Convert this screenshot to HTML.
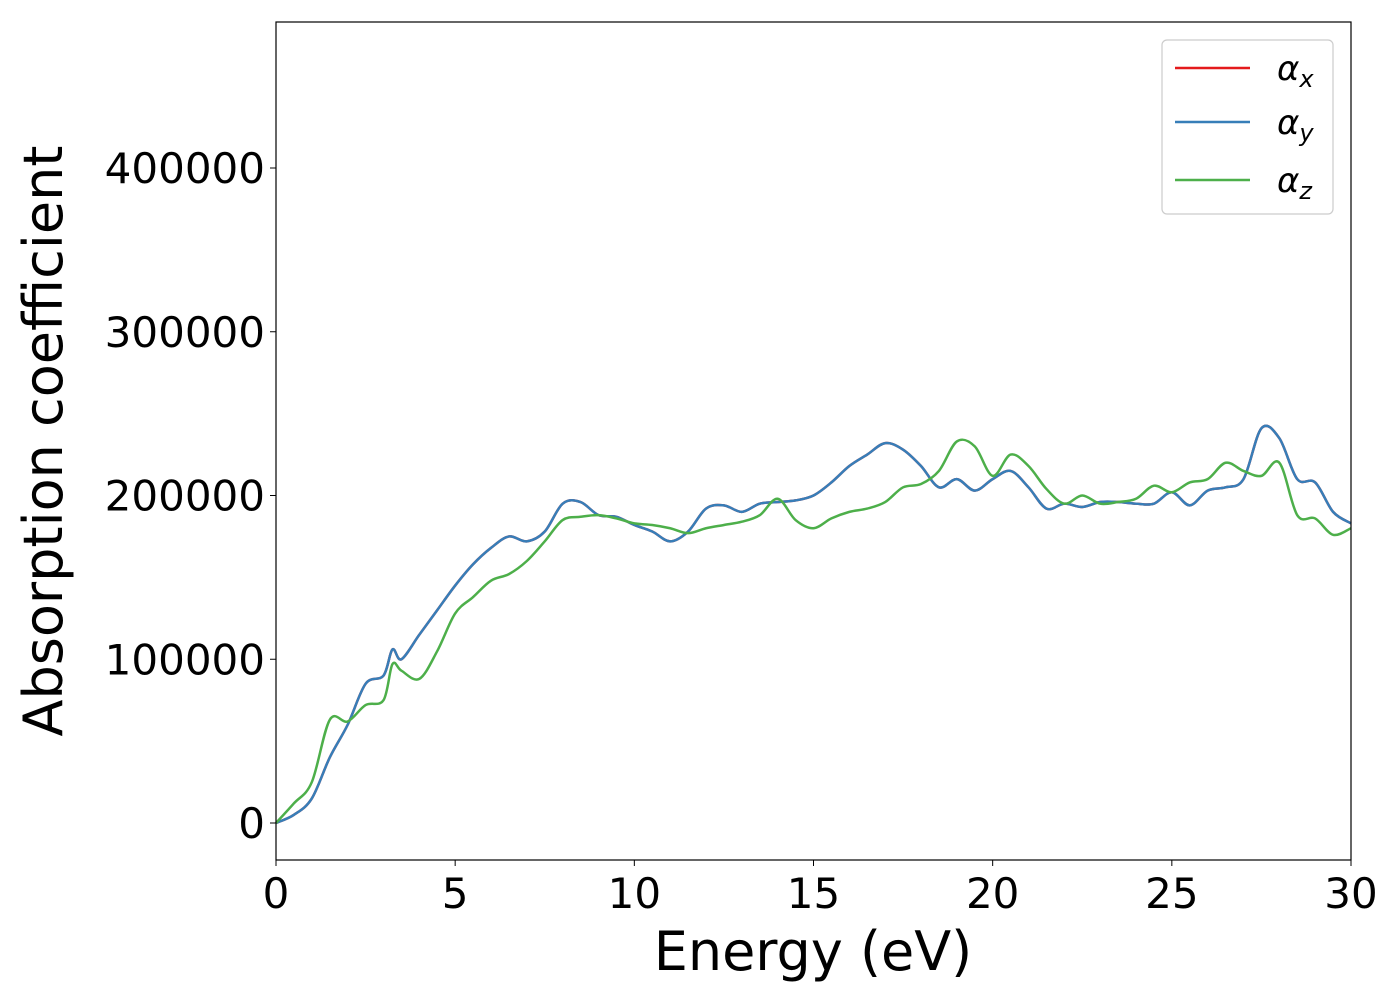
<!DOCTYPE html>
<html><head><meta charset="utf-8"><style>
body{margin:0;background:#fff;}
svg text{font-family:"DejaVu Sans","Liberation Sans",sans-serif;}
</style></head><body>
<svg id="chart" width="1400" height="1000" viewBox="0 0 1400 1000" xmlns="http://www.w3.org/2000/svg">
<rect x="0" y="0" width="1400" height="1000" fill="#fff"/>
<g id="series"></g>
<rect x="276" y="22" width="1075" height="838" fill="none" stroke="#000" stroke-width="1.2"/>
<g id="ticks"></g>
<text x="813" y="970" font-size="54" text-anchor="middle">Energy (eV)</text>
<text transform="translate(62,441) rotate(-90)" font-size="54" text-anchor="middle">Absorption coefficient</text>
<g>
<rect x="1162" y="40" width="171" height="174" rx="5" fill="#fff" fill-opacity="0.8" stroke="#ccc" stroke-width="1.2"/>
<line x1="1175" y1="68" x2="1250" y2="68" stroke="#e41a1c" stroke-width="2.5"/>
<text x="1277" y="80" font-size="34" font-style="italic">α<tspan font-size="24" dy="7">x</tspan></text>
<line x1="1175" y1="122" x2="1250" y2="122" stroke="#377eb8" stroke-width="2.5"/>
<text x="1277" y="134" font-size="34" font-style="italic">α<tspan font-size="24" dy="7">y</tspan></text>
<line x1="1175" y1="180" x2="1250" y2="180" stroke="#4daf4a" stroke-width="2.5"/>
<text x="1277" y="192" font-size="34" font-style="italic">α<tspan font-size="24" dy="7">z</tspan></text>
</g>
</svg>
<script>
const energy=[0,0.5,1,1.5,2,2.5,3,3.25,3.5,4,4.5,5,5.5,6,6.5,7,7.5,8,8.5,9,9.5,10,10.5,11,11.5,12,12.5,13,13.5,14,14.5,15,15.5,16,16.5,17,17.5,18,18.5,19,19.5,20,20.5,21,21.5,22,22.5,23,23.5,24,24.5,25,25.5,26,26.5,27,27.5,28,28.5,29,29.5,30];
const alphaY=[0,5,15,40,60,85,90,106,100,115,130,145,158,168,175,172,178,195,196,188,187,182,178,172,178,192,194,190,195,196,197,200,208,218,225,232,228,218,205,210,203,210,215,205,192,195,193,196,196,195,195,202,194,203,205,210,241,235,210,208,190,183].map(v=>v*1000);
const alphaX=alphaY.slice();
const alphaZ=[0,12,25,63,62,72,75,97,93,88,105,128,138,148,152,160,172,185,187,188,186,183,182,180,177,180,182,184,188,198,185,180,186,190,192,196,205,207,215,233,230,212,225,218,204,195,200,195,196,198,206,202,208,210,220,215,212,220,188,186,176,180].map(v=>v*1000);
const xTicks=[0,5,10,15,20,25,30];
const yTicks=[0,100000,200000,300000,400000];
const NS="http://www.w3.org/2000/svg";
const xs=e=>276+(e/30)*1075;
const ys=v=>823-v*0.0016375;
function path(vals){
  const p=energy.map((e,i)=>[xs(e),ys(vals[i])]);
  let d="M"+p[0][0]+","+p[0][1];
  for(let i=0;i<p.length-1;i++){
    const p0=p[Math.max(0,i-1)],p1=p[i],p2=p[i+1],p3=p[Math.min(p.length-1,i+2)];
    d+=" C"+(p1[0]+(p2[0]-p0[0])/6)+","+(p1[1]+(p2[1]-p0[1])/6)+" "+(p2[0]-(p3[0]-p1[0])/6)+","+(p2[1]-(p3[1]-p1[1])/6)+" "+p2[0]+","+p2[1];
  }
  return d;
}
const g=document.getElementById("series");
[[alphaX,"#e41a1c","series-alpha-x"],[alphaY,"#377eb8","series-alpha-y"],[alphaZ,"#4daf4a","series-alpha-z"]].forEach(s=>{
  const el=document.createElementNS(NS,"path");
  el.setAttribute("d",path(s[0]));el.setAttribute("fill","none");el.setAttribute("stroke",s[1]);el.setAttribute("stroke-width","2.5");
  
  
  g.appendChild(el);
});
const t=document.getElementById("ticks");
xTicks.forEach(v=>{
  const l=document.createElementNS(NS,"line");
  l.setAttribute("x1",xs(v));l.setAttribute("x2",xs(v));l.setAttribute("y1",860);l.setAttribute("y2",866);l.setAttribute("stroke","#000");
  
  
  t.appendChild(l);
  const tx=document.createElementNS(NS,"text");
  tx.setAttribute("x",xs(v));tx.setAttribute("y",908);tx.setAttribute("font-size","42");tx.setAttribute("text-anchor","middle");tx.textContent=v;
  
  
  t.appendChild(tx);
});
yTicks.forEach(v=>{
  const l=document.createElementNS(NS,"line");
  l.setAttribute("x1",270);l.setAttribute("x2",276);l.setAttribute("y1",ys(v));l.setAttribute("y2",ys(v));l.setAttribute("stroke","#000");
  
  
  t.appendChild(l);
  const tx=document.createElementNS(NS,"text");
  tx.setAttribute("x",265);tx.setAttribute("y",ys(v)+15);tx.setAttribute("font-size","42");tx.setAttribute("text-anchor","end");tx.textContent=v;
  
  
  t.appendChild(tx);
});
</script>
</body></html>
